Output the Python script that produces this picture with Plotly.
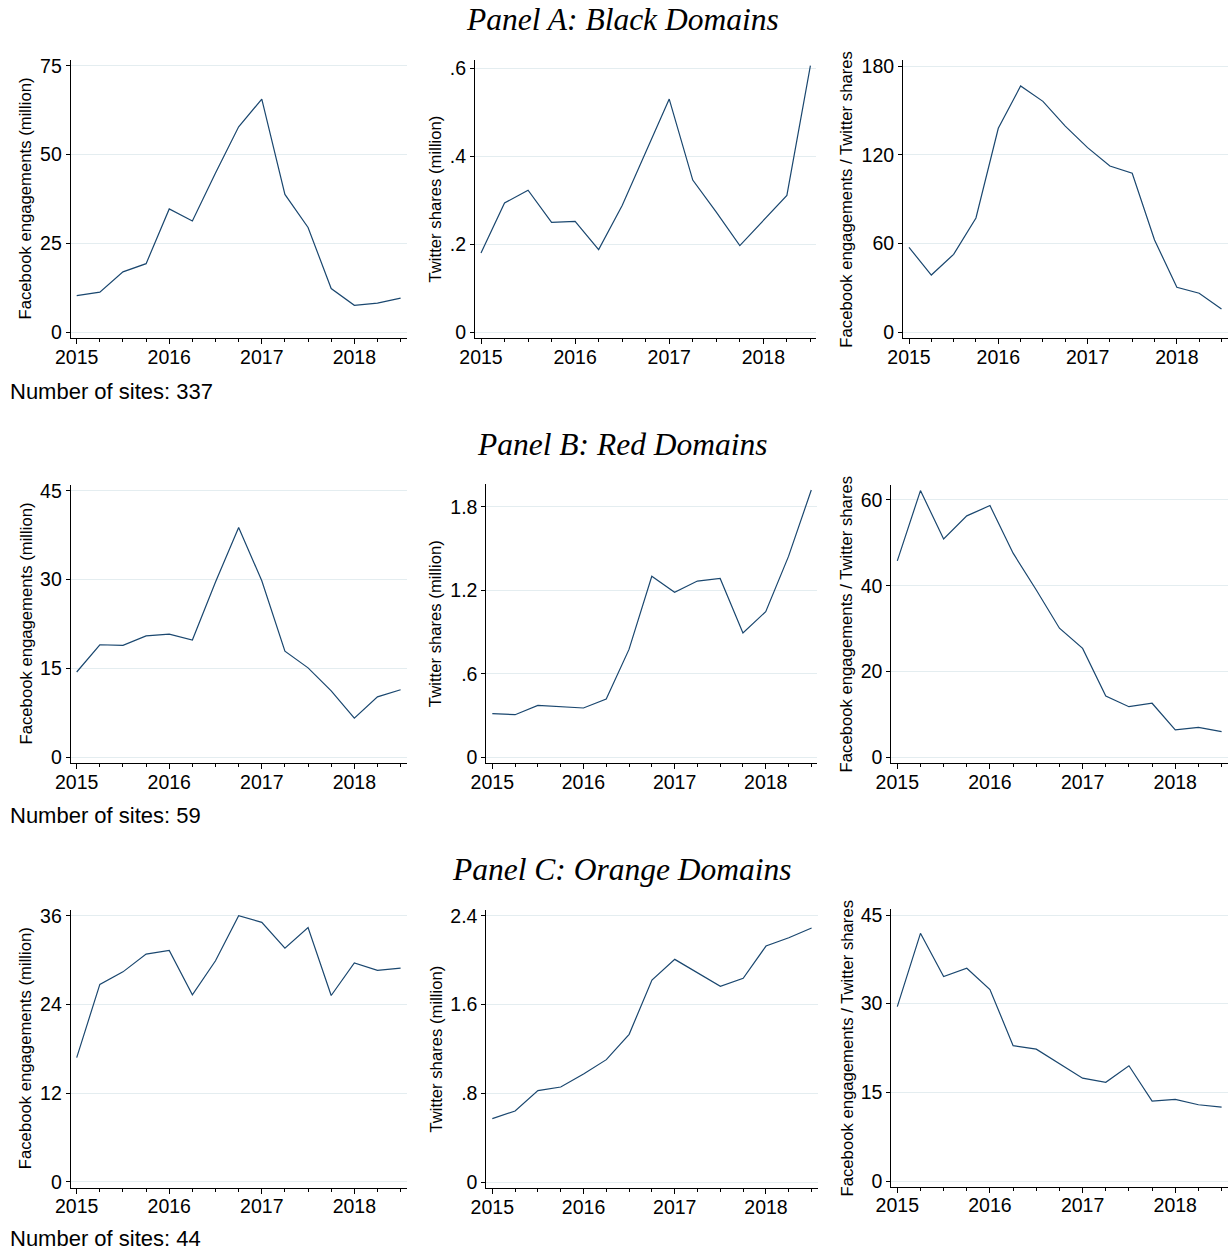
import plotly.graph_objects as go

# ---------------- data ----------------
quarters = [2015.0, 2015.25, 2015.5, 2015.75, 2016.0, 2016.25, 2016.5, 2016.75,
            2017.0, 2017.25, 2017.5, 2017.75, 2018.0, 2018.25, 2018.5]
year_ticks = [2015, 2016, 2017, 2018]
year_labels = ["2015", "2016", "2017", "2018"]

fb_black = [10.3, 11.3, 17.0, 19.3, 34.7, 31.3, 44.8, 57.8, 65.6, 38.8, 29.5, 12.3, 7.6, 8.2, 9.6]
tw_black = [0.180, 0.294, 0.323, 0.250, 0.252, 0.188, 0.288, 0.410, 0.530, 0.346, 0.273, 0.197, 0.253, 0.311, 0.606]
ratio_black = [57.4, 38.7, 52.7, 77.3, 137.9, 166.5, 156.1, 139.4, 124.8, 112.4, 107.5, 62.4, 30.4, 26.4, 15.8]

fb_red = [14.4, 19.0, 18.9, 20.5, 20.8, 19.8, 29.6, 38.8, 29.8, 17.9, 15.1, 11.2, 6.6, 10.2, 11.4]
tw_red = [0.314, 0.306, 0.373, 0.366, 0.354, 0.419, 0.775, 1.300, 1.185, 1.266, 1.285, 0.893, 1.046, 1.443, 1.920]
ratio_red = [45.8, 62.2, 50.9, 56.3, 58.7, 47.6, 39.0, 30.1, 25.4, 14.3, 11.8, 12.6, 6.4, 7.0, 6.0]

fb_orange = [16.8, 26.7, 28.4, 30.8, 31.3, 25.3, 29.9, 36.0, 35.1, 31.6, 34.4, 25.2, 29.6, 28.6, 28.9]
tw_orange = [0.573, 0.642, 0.825, 0.858, 0.975, 1.104, 1.332, 1.821, 2.007, 1.884, 1.764, 1.836, 2.127, 2.202, 2.289]
ratio_orange = [29.5, 41.9, 34.6, 36.0, 32.4, 22.9, 22.3, 19.8, 17.4, 16.7, 19.5, 13.5, 13.8, 12.9, 12.5]

yticks_fb_black = [0, 25, 50, 75]
ylabels_fb_black = ["0", "25", "50", "75"]
yticks_tw_black = [0, 0.2, 0.4, 0.6]
ylabels_tw_black = ["0", ".2", ".4", ".6"]
yticks_ratio_black = [0, 60, 120, 180]
ylabels_ratio_black = ["0", "60", "120", "180"]

yticks_fb_red = [0, 15, 30, 45]
ylabels_fb_red = ["0", "15", "30", "45"]
yticks_tw_red = [0, 0.6, 1.2, 1.8]
ylabels_tw_red = ["0", ".6", "1.2", "1.8"]
yticks_ratio_red = [0, 20, 40, 60]
ylabels_ratio_red = ["0", "20", "40", "60"]

yticks_fb_orange = [0, 12, 24, 36]
ylabels_fb_orange = ["0", "12", "24", "36"]
yticks_tw_orange = [0, 0.8, 1.6, 2.4]
ylabels_tw_orange = ["0", ".8", "1.6", "2.4"]
yticks_ratio_orange = [0, 15, 30, 45]
ylabels_ratio_orange = ["0", "15", "30", "45"]

panel_titles = ["Panel A: Black Domains", "Panel B: Red Domains", "Panel C: Orange Domains"]
site_notes = ["Number of sites: 337", "Number of sites: 59", "Number of sites: 44"]
ytitle_fb = "Facebook engagements (million)"
ytitle_tw = "Twitter shares (million)"
ytitle_ratio = "Facebook engagements / Twitter shares"

# ---------------- layout geometry (pixels) ----------------
W, H = 1228, 1251
PAD = 6
LINE = "#1a476f"
GRID = "#e4edf0"
SANS = "Liberation Sans, Arial, sans-serif"
SERIF = "Liberation Serif, Times New Roman, serif"

# each panel: series, yticks, ylabels, ytitle, x px of 2015, x px of 2018.5, y px of 0, y px of top tick, title x-center
panels = [
    (fb_black, yticks_fb_black, ylabels_fb_black, ytitle_fb, 76.7, 400.6, 332.3, 65.7, 25.5),
    (tw_black, yticks_tw_black, ylabels_tw_black, ytitle_tw, 481.0, 810.4, 332.3, 68.3, 435.5),
    (ratio_black, yticks_ratio_black, ylabels_ratio_black, ytitle_ratio, 909.0, 1221.5, 332.3, 66.0, 846.5),
    (fb_red, yticks_fb_red, ylabels_fb_red, ytitle_fb, 76.7, 400.6, 757.3, 490.7, 25.5),
    (tw_red, yticks_tw_red, ylabels_tw_red, ytitle_tw, 492.3, 811.3, 757.3, 506.7, 435.5),
    (ratio_red, yticks_ratio_red, ylabels_ratio_red, ytitle_ratio, 897.3, 1221.6, 757.3, 500.0, 846.5),
    (fb_orange, yticks_fb_orange, ylabels_fb_orange, ytitle_fb, 76.7, 400.6, 1181.7, 915.7, 25.5),
    (tw_orange, yticks_tw_orange, ylabels_tw_orange, ytitle_tw, 492.3, 811.6, 1182.3, 915.7, 435.5),
    (ratio_orange, yticks_ratio_orange, ylabels_ratio_orange, ytitle_ratio, 897.3, 1221.6, 1181.0, 915.0, 846.5),
]

fig = go.Figure()
annotations = []
layout_axes = {}

for i, (vals, yt, yl, ytitle, x0px, x1px, y0px, ytpx, tx) in enumerate(panels):
    n = i + 1
    xname = "x" if n == 1 else f"x{n}"
    yname = "y" if n == 1 else f"y{n}"
    fig.add_trace(go.Scatter(x=quarters, y=vals, mode="lines",
                             line=dict(color=LINE, width=1.2),
                             xaxis=xname, yaxis=yname, showlegend=False,
                             hoverinfo="skip"))
    # x geometry
    xlo, xhi = quarters[0], quarters[-1]
    xs = (x1px - x0px) / (xhi - xlo)
    xrange = [xlo - PAD / xs, xhi + PAD / xs]
    xdom = [(x0px - PAD) / W, (x1px + PAD) / W]
    # y geometry
    top_tick = yt[-1]
    ys = (y0px - ytpx) / top_tick
    yhi = max(top_tick, max(vals))
    yrange = [0 - PAD / ys, yhi + PAD / ys]
    ytop_px = y0px - yhi * ys - PAD
    ybot_px = y0px + PAD
    ydom = [1 - ybot_px / H, 1 - ytop_px / H]

    layout_axes["xaxis" if n == 1 else f"xaxis{n}"] = dict(
        domain=xdom, range=xrange, anchor=yname, automargin=False,
        tickmode="array", tickvals=year_ticks, ticktext=year_labels,
        ticks="outside", ticklen=5, tickwidth=1, tickcolor="#000",
        ticklabelstandoff=-4,
        showline=True, linecolor="#000", linewidth=1,
        showgrid=False, zeroline=False,
        minor=dict(tickmode="array", tickvals=quarters, ticks="outside",
                   ticklen=3, tickwidth=1, tickcolor="#000", showgrid=False),
        tickfont=dict(family=SANS, size=19.5, color="#000"),
        fixedrange=True,
    )
    layout_axes["yaxis" if n == 1 else f"yaxis{n}"] = dict(
        domain=ydom, range=yrange, anchor=xname, automargin=False,
        tickmode="array", tickvals=yt, ticktext=yl,
        ticks="outside", ticklen=4, tickwidth=1, tickcolor="#000",
        showline=True, linecolor="#000", linewidth=1,
        showgrid=True, gridcolor=GRID, gridwidth=1, zeroline=False,
        tickfont=dict(family=SANS, size=19.5, color="#000"),
        fixedrange=True,
    )
    annotations.append(dict(
        text=ytitle, textangle=-90, xref="paper", yref="paper",
        x=tx / W, y=1 - ((ytop_px + ybot_px) / 2) / H,
        xanchor="center", yanchor="middle", showarrow=False,
        font=dict(family=SANS, size=16.7, color="#000"),
    ))

row_offsets = [0, 424.7, 849.7]
note_centers = [391, 815.7, 1238.3]
for r in range(3):
    annotations.append(dict(
        text=panel_titles[r], xref="paper", yref="paper",
        x=622 / W, y=1 - (19.5 + row_offsets[r]) / H,
        xanchor="center", yanchor="middle", showarrow=False,
        font=dict(family=SERIF, size=31.5, color="#000", style="italic"),
    ))
    annotations.append(dict(
        text=site_notes[r], xref="paper", yref="paper",
        x=9 / W, y=1 - note_centers[r] / H,
        xanchor="left", yanchor="middle", showarrow=False, borderpad=0,
        font=dict(family=SANS, size=22, color="#000"),
    ))

fig.update_layout(
    template="none",
    width=W, height=H,
    margin=dict(l=0, r=0, t=0, b=0, pad=0, autoexpand=False),
    paper_bgcolor="white", plot_bgcolor="white",
    annotations=annotations,
    showlegend=False,
    **layout_axes,
)

fig.write_html(
    "out.html",
    config={"displayModeBar": False},
    post_script="document.body.style.margin='0';document.body.style.padding='0';document.body.style.overflow='hidden';",
)
